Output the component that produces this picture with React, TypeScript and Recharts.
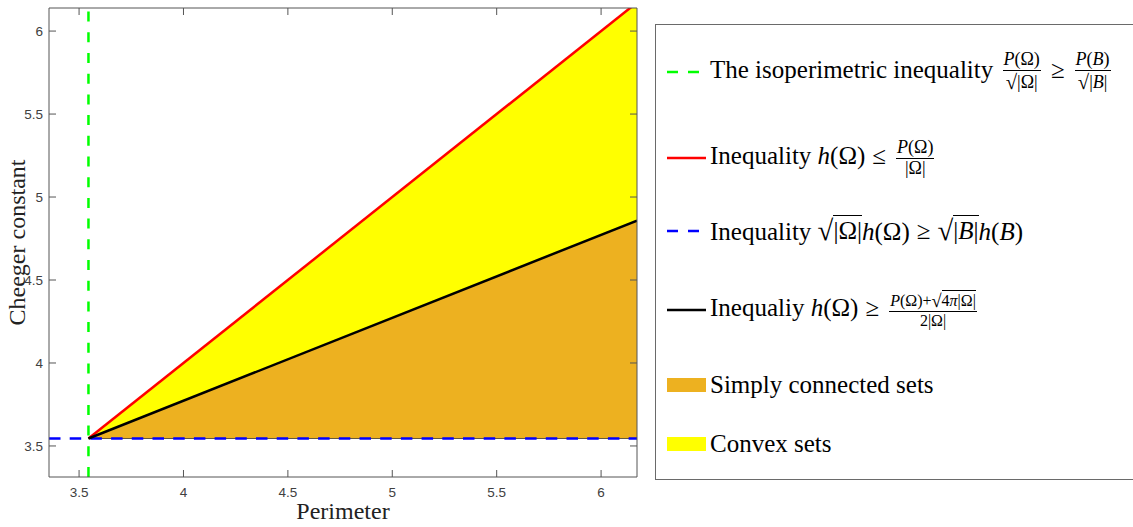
import React from 'react';
import { ComposedChart, Area, Line, XAxis, YAxis, ReferenceLine } from 'recharts';

// Data
const perimeter = [3.545, 6.172];
const convexUpper = [3.545, 6.172]; // h(Ω) ≤ P(Ω)/|Ω|  (red)
const simplyUpper = [3.545, 4.858]; // h(Ω) ≥ (P+√(4π|Ω|))/(2|Ω|)  (black)
const ballPerimeter = 3.545; // green vertical
const ballCheeger = 3.545; // blue horizontal
const xTicks = [3.5, 4, 4.5, 5, 5.5, 6];
const yTicks = [3.5, 4, 4.5, 5, 5.5, 6];
const xDomain = [3.356, 6.172];
const yDomain = [3.313, 6.139];

const data = perimeter.map((p, i) => ({
  p,
  red: convexUpper[i],
  black: simplyUpper[i],
  simply: [ballCheeger, simplyUpper[i]],
  convex: [simplyUpper[i], convexUpper[i]],
}));

const AX = '#555';
const TICKTXT = '#404040';
const sans = '"Liberation Sans", Arial, sans-serif';
const serif = '"Liberation Serif", "Times New Roman", serif';
const M = 6;
const TL = 7;

const LeftTick = (props: any) => {
  const { x, y, payload } = props;
  return (
    <g>
      <text x={x} y={y} dy="0.35em" textAnchor="end" fontFamily={sans} fontSize={13.5} fill={TICKTXT}>
        {payload.value}
      </text>
      <line x1={x + M} x2={x + M + TL} y1={y} y2={y} stroke={AX} strokeWidth={1} />
    </g>
  );
};
const BottomTick = (props: any) => {
  const { x, y, payload } = props;
  return (
    <g>
      <text x={x} y={y + 14} textAnchor="middle" fontFamily={sans} fontSize={13.5} fill={TICKTXT}>
        {payload.value}
      </text>
      <line x1={x} x2={x} y1={y - M} y2={y - M - TL} stroke={AX} strokeWidth={1} />
    </g>
  );
};
const TopTick = (props: any) => {
  const { x, y } = props;
  return <line x1={x} x2={x} y1={y} y2={y + TL} stroke={AX} strokeWidth={1} />;
};
const RightTick = (props: any) => {
  const { x, y } = props;
  return <line x1={x} x2={x - TL} y1={y} y2={y} stroke={AX} strokeWidth={1} />;
};

const XLabel = (props: any) => {
  const vb = props.viewBox || {};
  return (
    <text x={vb.x + vb.width / 2} y={vb.y + 42} textAnchor="middle" fontFamily={serif} fontSize={24} fill="#222">
      Perimeter
    </text>
  );
};
const YLabel = (props: any) => {
  const vb = props.viewBox || {};
  const cy = vb.y + vb.height / 2;
  return (
    <text x={25} y={cy} textAnchor="middle" fontFamily={serif} fontSize={24} fill="#222" transform={`rotate(-90, 25, ${cy})`}>
      Cheeger constant
    </text>
  );
};

const Frac = ({ num, den, size = 18 }: any) => (
  <span
    style={{
      display: 'inline-flex',
      flexDirection: 'column',
      alignItems: 'center',
      verticalAlign: 'middle',
      fontSize: size,
      lineHeight: 1.1,
      margin: '0 3px',
    }}
  >
    <span style={{ padding: '0 1px' }}>{num}</span>
    <span style={{ borderTop: '1px solid #000', width: '100%', textAlign: 'center' }}>{den}</span>
  </span>
);
const Sqrt = ({ children }: any) => (
  <span style={{ whiteSpace: 'nowrap' }}>
    <span style={{ fontSize: '1.15em', verticalAlign: '-0.05em' }}>√</span>
    <span style={{ borderTop: '1px solid #000', paddingTop: 1 }}>{children}</span>
  </span>
);
const Rel = ({ children }: any) => <span style={{ margin: '0 0.28em' }}>{children}</span>;
const I = ({ children }: any) => <i>{children}</i>;

const LineSample = ({ color, dash }: any) => (
  <svg width={40} height={10} style={{ flex: 'none' }}>
    <line x1={0} x2={dash ? 33 : 39} y1={5} y2={5} stroke={color} strokeWidth={2.5} strokeDasharray={dash ? '11 10' : undefined} />
  </svg>
);
const PatchSample = ({ color }: any) => (
  <span style={{ display: 'inline-block', width: 39, height: 14, background: color, flex: 'none', marginRight: 1 }} />
);

const Entry = ({ cy, sample, children }: any) => (
  <div
    style={{
      position: 'absolute',
      left: 667,
      top: cy - 25,
      height: 50,
      display: 'flex',
      alignItems: 'center',
      whiteSpace: 'nowrap',
      fontFamily: serif,
      fontSize: 25,
      color: '#000',
    }}
  >
    {sample}
    <span style={{ marginLeft: 3 }}>{children}</span>
  </div>
);

export default function App() {
  return (
    <div style={{ position: 'absolute', left: 0, top: 0, width: 1133, height: 527, overflow: 'hidden', background: '#fff' }}>
      <ComposedChart width={1133} height={527} data={data} margin={{ top: 7, right: 495, bottom: 20, left: 0 }}>
        <XAxis
          xAxisId="b"
          dataKey="p"
          type="number"
          domain={xDomain}
          ticks={xTicks}
          allowDataOverflow
          height={30}
          tickSize={0}
          tickMargin={M}
          tick={<BottomTick />}
          axisLine={{ stroke: AX }}
          label={<XLabel />}
        />
        <XAxis
          xAxisId="t"
          orientation="top"
          dataKey="p"
          type="number"
          domain={xDomain}
          ticks={xTicks}
          allowDataOverflow
          height={1}
          tickSize={0}
          tickMargin={0}
          tick={<TopTick />}
          axisLine={{ stroke: AX }}
        />
        <YAxis
          yAxisId="l"
          type="number"
          domain={yDomain}
          ticks={yTicks}
          allowDataOverflow
          width={49}
          tickSize={0}
          tickMargin={M}
          tick={<LeftTick />}
          axisLine={{ stroke: AX }}
          label={<YLabel />}
        />
        <YAxis
          yAxisId="r"
          orientation="right"
          type="number"
          domain={yDomain}
          ticks={yTicks}
          allowDataOverflow
          width={1}
          tickSize={0}
          tickMargin={0}
          tick={<RightTick />}
          axisLine={{ stroke: AX }}
        />
        <Area
          xAxisId="b"
          yAxisId="l"
          dataKey="simply"
          type="linear"
          fill="#EDB120"
          fillOpacity={1}
          stroke="#000"
          strokeWidth={0.6}
          isAnimationActive={false}
        />
        <Area
          xAxisId="b"
          yAxisId="l"
          dataKey="convex"
          type="linear"
          fill="#FFFF00"
          fillOpacity={1}
          stroke="none"
          isAnimationActive={false}
        />
        <ReferenceLine xAxisId="b" yAxisId="l" y={ballCheeger} stroke="#0000FF" strokeWidth={2.5} strokeDasharray="11.5 9.2" />
        <Line xAxisId="b" yAxisId="l" dataKey="red" type="linear" stroke="#FF0000" strokeWidth={2.5} dot={false} isAnimationActive={false} />
        <Line xAxisId="b" yAxisId="l" dataKey="black" type="linear" stroke="#000" strokeWidth={2.5} dot={false} isAnimationActive={false} />
        <ReferenceLine xAxisId="b" yAxisId="l" x={ballPerimeter} stroke="#00FF00" strokeWidth={2.5} strokeDasharray="10 10.7" />
      </ComposedChart>

      <div
        style={{
          position: 'absolute',
          left: 655,
          top: 24,
          width: 520,
          height: 456,
          border: '1px solid #6a6a6a',
          background: '#fff',
          boxSizing: 'border-box',
        }}
      />
      <Entry cy={72} sample={<LineSample color="#00FF00" dash />}>
        The isoperimetric inequality{' '}
        <Frac num={<><I>P</I>(Ω)</>} den={<Sqrt>|Ω|</Sqrt>} />
        <Rel>≥</Rel>
        <Frac num={<><I>P</I>(<I>B</I>)</>} den={<Sqrt>|<I>B</I>|</Sqrt>} />
      </Entry>
      <Entry cy={158} sample={<LineSample color="#FF0000" />}>
        Inequality <I>h</I>(Ω)<Rel>≤</Rel>
        <Frac num={<><I>P</I>(Ω)</>} den={<>|Ω|</>} />
      </Entry>
      <Entry cy={231} sample={<LineSample color="#0000FF" dash />}>
        Inequality <Sqrt>|Ω|</Sqrt>
        <I>h</I>(Ω)<Rel>≥</Rel>
        <Sqrt>|<I>B</I>|</Sqrt>
        <I>h</I>(<I>B</I>)
      </Entry>
      <Entry cy={310} sample={<LineSample color="#000000" />}>
        Inequaliy <I>h</I>(Ω)<Rel>≥</Rel>
        <Frac
          size={16}
          num={
            <>
              <I>P</I>(Ω)+<Sqrt>4<I>π</I>|Ω|</Sqrt>
            </>
          }
          den={<>2|Ω|</>}
        />
      </Entry>
      <Entry cy={385} sample={<PatchSample color="#EDB120" />}>
        Simply connected sets
      </Entry>
      <Entry cy={444} sample={<PatchSample color="#FFFF00" />}>
        Convex sets
      </Entry>
    </div>
  );
}
